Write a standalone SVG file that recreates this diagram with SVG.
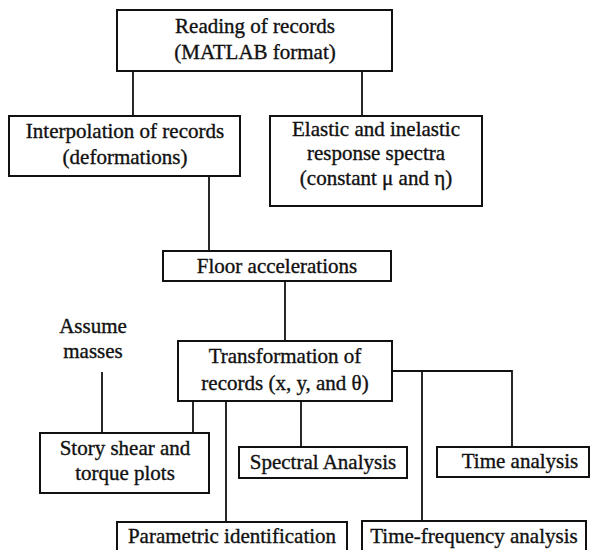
<svg xmlns="http://www.w3.org/2000/svg" width="598" height="550" viewBox="0 0 598 550">
<style>
.box{fill:#fff;stroke:#111;stroke-width:2}
.ln{fill:none;stroke:#111;stroke-width:1.8}
text{font-family:"Liberation Serif","Times New Roman",serif;font-size:21px;fill:#111;stroke:#111;stroke-width:0.35;text-anchor:middle}
</style>
<rect width="598" height="550" fill="#fff"/>
<g id="connectors">
<line class="ln" x1="133" y1="71" x2="133" y2="116"/>
<line class="ln" x1="362" y1="71" x2="362" y2="116"/>
<line class="ln" x1="209" y1="176" x2="209" y2="251"/>
<line class="ln" x1="285" y1="281" x2="285" y2="341"/>
<polyline class="ln" points="392,371 512,371 512,447"/>
<line class="ln" x1="422" y1="371" x2="422" y2="521"/>
<line class="ln" x1="193" y1="401" x2="193" y2="433"/>
<line class="ln" x1="226" y1="401" x2="226" y2="522"/>
<line class="ln" x1="301" y1="401" x2="301" y2="447"/>
<line class="ln" x1="102" y1="372" x2="102" y2="433"/>
</g>
<g id="reading">
<rect class="box" x="117" y="10" width="275" height="61"/>
<text x="255" y="33">Reading of records</text>
<text x="255" y="59">(MATLAB format)</text>
</g>
<g id="interpolation">
<rect class="box" x="9" y="116" width="231" height="60"/>
<text x="125" y="138">Interpolation of records</text>
<text x="125" y="164">(deformations)</text>
</g>
<g id="elastic">
<rect class="box" x="270" y="116" width="212" height="90"/>
<text x="376" y="136">Elastic and inelastic</text>
<text x="376" y="160">response spectra</text>
<text x="376" y="185">(constant μ and η)</text>
</g>
<g id="floor">
<rect class="box" x="163" y="251" width="228" height="30"/>
<text x="277" y="273">Floor accelerations</text>
</g>
<g id="assume">
<text x="93" y="333">Assume</text>
<text x="93" y="358">masses</text>
</g>
<g id="transformation">
<rect class="box" x="178" y="341" width="214" height="60"/>
<text x="285" y="363">Transformation of</text>
<text x="285" y="390">records (x, y, and θ)</text>
</g>
<g id="story">
<rect class="box" x="40" y="433" width="169" height="60"/>
<text x="125" y="455">Story shear and</text>
<text x="125" y="480">torque plots</text>
</g>
<g id="spectral">
<rect class="box" x="239" y="447" width="168" height="31"/>
<text x="323" y="469">Spectral Analysis</text>
</g>
<g id="time">
<rect class="box" x="437" y="447" width="152" height="30"/>
<text x="520" y="468">Time analysis</text>
</g>
<g id="parametric">
<rect class="box" x="117" y="522" width="230" height="32"/>
<text x="232" y="543">Parametric identification</text>
</g>
<g id="timefreq">
<rect class="box" x="362" y="521" width="224" height="33"/>
<text x="474" y="543">Time-frequency analysis</text>
</g>
</svg>
